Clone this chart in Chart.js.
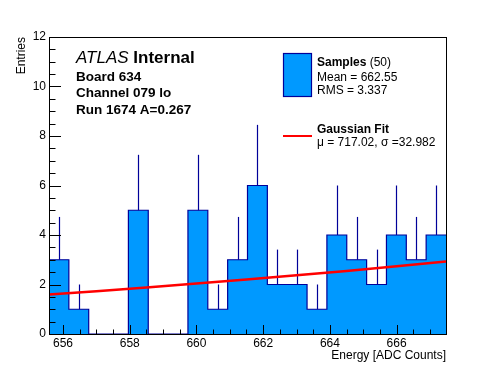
<!DOCTYPE html>
<html><head><meta charset="utf-8">
<script src="https://cdn.jsdelivr.net/npm/chart.js@4.4.1/dist/chart.umd.min.js"></script>
<style>html,body{margin:0;padding:0;background:#fff}#wrap{width:496px;height:372px}</style>
</head><body><div id="wrap"><canvas id="c" width="496" height="372"></canvas></div>
<script>
// ---- data ----
const xMin = 655.58, xMax = 667.48;
const counts = [3, 1, 0, 0, 5, 0, 0, 5, 1, 3, 6, 2, 2, 1, 4, 3, 2, 4, 3, 4];
const errUp  = [1.73, 1, 0, 0, 2.24, 0, 0, 2.24, 1, 1.73, 2.45, 1.41, 1.41, 1, 2, 1.73, 1.41, 2, 1.73, 2];
const fitX = [655.58, 657, 658.5, 660, 661.5, 663, 664.5, 666, 667.48];
const fitY = [1.60, 1.73, 1.88, 2.04, 2.20, 2.37, 2.55, 2.74, 2.93];
const xTicks = [656, 658, 660, 662, 664, 666];
const yTicks = [0, 2, 4, 6, 8, 10, 12];
const infoLines = ["Board 634", "Channel 079 lo", "Run 1674 A=0.267"];
const legendSamples = { name: "Samples", n: "(50)", mean: "Mean = 662.55", rms: "RMS = 3.337" };
const legendFit = { name: "Gaussian Fit", pars: "\u03bc = 717.02, \u03c3 =32.982" };

const FONT = "'Liberation Sans', Arial, Helvetica, sans-serif";
Chart.defaults.font.family = FONT;
Chart.defaults.font.size = 12;
Chart.defaults.color = '#000';

const binW = (xMax - xMin) / counts.length;
const histPts = counts.map((c, i) => ({ x: xMin + i * binW, y: c }));
histPts.push({ x: xMax, y: counts[counts.length - 1] });

const FILL = '#0099ff', LINE = '#000099';

const errPlugin = {
  id: 'errbars',
  afterDatasetDraw(chart, args) {
    if (args.index !== 1) return;
    const ctx = chart.ctx, xs = chart.scales.x, ys = chart.scales.y;
    ctx.save();
    ctx.strokeStyle = LINE; ctx.lineWidth = 1.2;
    counts.forEach((c, i) => {
      if (!errUp[i]) return;
      const px = Math.round(xs.getPixelForValue(xMin + (i + 0.5) * binW)) + 0.5;
      ctx.beginPath();
      ctx.moveTo(px, ys.getPixelForValue(c));
      ctx.lineTo(px, ys.getPixelForValue(c + errUp[i]));
      ctx.stroke();
    });
    ctx.restore();
  }
};

const framePlugin = {
  id: 'frame',
  afterDraw(chart) {
    const ctx = chart.ctx, a = chart.chartArea, xs = chart.scales.x, ys = chart.scales.y;
    ctx.save();
    ctx.strokeStyle = '#000'; ctx.lineWidth = 1;
    for (let v = 655.5; v <= xMax + 1e-9; v += 0.5) {
      if (v < xMin) continue;
      const major = Math.abs(v / 2 - Math.round(v / 2)) < 1e-6;
      const px = Math.round(xs.getPixelForValue(v)) + 0.5;
      ctx.beginPath(); ctx.moveTo(px, a.bottom); ctx.lineTo(px, a.bottom - (major ? 9 : 4.5)); ctx.stroke();
    }
    for (let v = 0; v <= 12 + 1e-9; v += 0.5) {
      const major = Math.abs(v / 2 - Math.round(v / 2)) < 1e-6;
      const py = Math.round(ys.getPixelForValue(v)) + 0.5;
      ctx.beginPath(); ctx.moveTo(a.left, py); ctx.lineTo(a.left + (major ? 12 : 6.5), py); ctx.stroke();
    }
    ctx.strokeRect(Math.round(a.left) + 0.5, Math.round(a.top) + 0.5, Math.round(a.right - a.left), Math.round(a.bottom - a.top));

    // axis titles
    ctx.fillStyle = '#000';
    ctx.font = '12px ' + FONT;
    ctx.textAlign = 'right'; ctx.textBaseline = 'alphabetic';
    ctx.fillText('Energy [ADC Counts]', a.right, 359);
    ctx.save();
    ctx.translate(24.5, a.top);
    ctx.rotate(-Math.PI / 2);
    ctx.textAlign = 'right';
    ctx.fillText('Entries', 0, 0);
    ctx.restore();

    // ATLAS label
    ctx.textAlign = 'left';
    ctx.font = 'italic 17px ' + FONT;
    ctx.fillText('ATLAS', 76, 63);
    const w = ctx.measureText('ATLAS ').width;
    ctx.font = 'bold 17px ' + FONT;
    ctx.fillText('Internal', 76 + w, 63);
    ctx.font = 'bold 13.5px ' + FONT;
    infoLines.forEach((t, i) => ctx.fillText(t, 76, 81 + i * 16.3));

    // legend
    ctx.fillStyle = FILL;
    ctx.fillRect(283.5, 53.5, 28, 43);
    ctx.strokeStyle = LINE; ctx.lineWidth = 1.2;
    ctx.strokeRect(283.5, 53.5, 28, 43);
    ctx.fillStyle = '#000';
    ctx.font = 'bold 12px ' + FONT;
    ctx.fillText(legendSamples.name, 317, 65.5);
    const sw = ctx.measureText(legendSamples.name + ' ').width;
    ctx.font = '12px ' + FONT;
    ctx.fillText(legendSamples.n, 317 + sw, 65.5);
    ctx.fillText(legendSamples.mean, 317, 80.5);
    ctx.fillText(legendSamples.rms, 317, 94);
    ctx.strokeStyle = '#ff0000'; ctx.lineWidth = 2;
    ctx.beginPath(); ctx.moveTo(283, 136); ctx.lineTo(312, 136); ctx.stroke();
    ctx.font = 'bold 12px ' + FONT;
    ctx.fillText(legendFit.name, 317, 132.5);
    ctx.font = '12px ' + FONT;
    ctx.fillText(legendFit.pars, 317, 145.5);
    ctx.restore();
  }
};

new Chart(document.getElementById('c'), {
  type: 'line',
  data: {
    datasets: [
      { label: 'Gaussian Fit', data: fitX.map((x, i) => ({ x, y: fitY[i] })),
        borderColor: '#ff0000', borderWidth: 2.5, pointRadius: 0, fill: false, tension: 0, order: 0 },
      { label: 'Samples', data: histPts, stepped: true, borderColor: LINE, borderWidth: 1.2,
        backgroundColor: FILL, fill: 'origin', pointRadius: 0, order: 1 }
    ]
  },
  options: {
    responsive: false, animation: false, devicePixelRatio: 1,
    layout: { padding: { left: 0, top: 37, right: 50, bottom: 0 } },
    plugins: { legend: { display: false }, tooltip: { enabled: false } },
    scales: {
      x: {
        type: 'linear', min: xMin, max: xMax,
        afterFit(s) { s.height = 38; },
        afterBuildTicks(s) { s.ticks = xTicks.map(v => ({ value: v })); },
        grid: { display: false, drawTicks: false }, border: { display: false },
        ticks: { padding: 2, maxRotation: 0, autoSkip: false, font: { size: 12 }, color: '#000' }
      },
      y: {
        type: 'linear', min: 0, max: 12,
        afterFit(s) { s.width = 49; },
        afterBuildTicks(s) { s.ticks = yTicks.map(v => ({ value: v })); },
        grid: { display: false, drawTicks: false }, border: { display: false },
        ticks: { padding: 3, font: { size: 12 }, color: '#000' }
      }
    }
  },
  plugins: [errPlugin, framePlugin]
});
</script></body></html>
